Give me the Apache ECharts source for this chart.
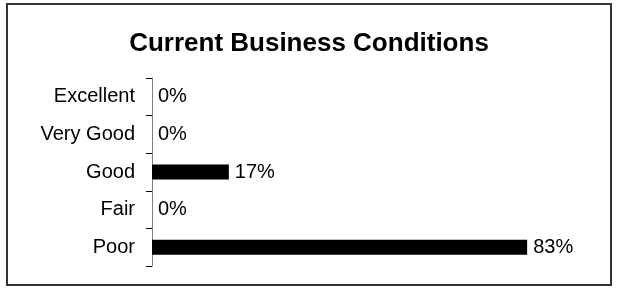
<!DOCTYPE html>
<html>
<head>
<meta charset="utf-8">
<script src="https://cdn.jsdelivr.net/npm/echarts@6/dist/echarts.min.js"></script>
<style>
html, body { margin: 0; padding: 0; background: #fff; }
#main { width: 618px; height: 288px; }
</style>
</head>
<body>
<div id="main"></div>
<script>
var title = 'Current Business Conditions';
var categories = ['Excellent', 'Very Good', 'Good', 'Fair', 'Poor'];
var values = [0, 0, 17, 0, 83];

var dom = document.getElementById('main');
var myChart = echarts.init(dom, null, { renderer: 'canvas' });
var option = {
	animation: false,
	textStyle: { fontFamily: 'Liberation Sans, Arial, sans-serif' },
	title: {
		text: title,
		left: 'center',
		top: 26,
		textStyle: { fontSize: 26, fontWeight: 'bold', color: '#000' }
	},
	graphic: [{
		type: 'rect',
		shape: { x: 7, y: 4, width: 604, height: 281 },
		style: { fill: 'none', stroke: '#333', lineWidth: 2 },
		silent: true
	}],
	grid: { left: 152, right: 14, top: 78, bottom: 22, containLabel: false },
	xAxis: {
		type: 'value',
		min: 0,
		max: 100,
		show: false
	},
	yAxis: {
		type: 'category',
		data: categories,
		inverse: true,
		axisLine: { show: true, lineStyle: { color: '#808080', width: 1 } },
		axisTick: { show: true, length: 6, inside: false, lineStyle: { color: '#000', width: 1 } },
		axisLabel: { fontSize: 20, color: '#000', margin: 17 }
	},
	series: [{
		type: 'bar',
		data: values,
		barWidth: 15,
		itemStyle: { color: '#000' },
		label: {
			show: true,
			position: 'right',
			distance: 6,
			formatter: '{c}%',
			fontSize: 20,
			color: '#000'
		}
	}]
};
myChart.setOption(option);
</script>
</body>
</html>
